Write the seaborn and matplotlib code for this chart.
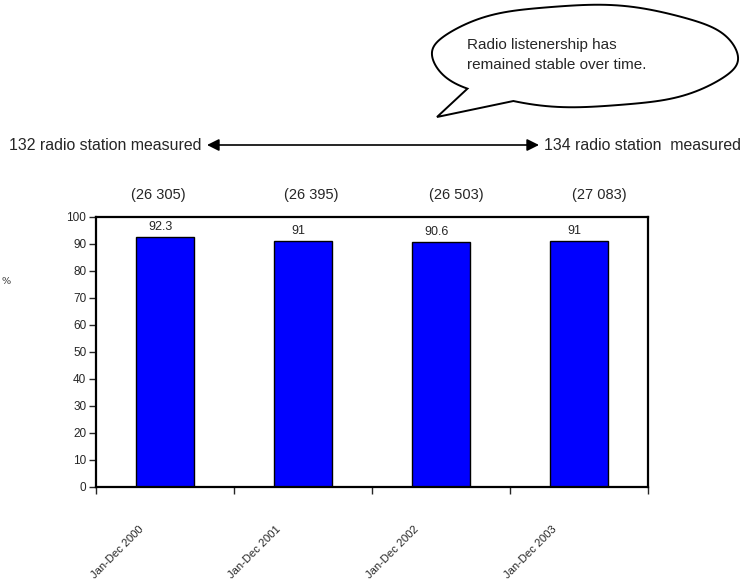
import numpy as np
import matplotlib
matplotlib.use("Agg")
import matplotlib.pyplot as plt
import seaborn as sns
import pandas as pd
from matplotlib.path import Path
from matplotlib.patches import PathPatch, FancyArrowPatch
from matplotlib.ticker import FixedLocator

# data
periods = ["Jan-Dec 2000", "Jan-Dec 2001", "Jan-Dec 2002", "Jan-Dec 2003"]
listenership = [92.3, 91, 90.6, 91]
sample_sizes = ["(26 305)", "(26 395)", "(26 503)", "(27 083)"]
value_labels = ["92.3", "91", "90.6", "91"]
y_ticks = list(range(0, 101, 10))

df = pd.DataFrame({"period": periods, "pct": listenership})

sns.set_style("white")
plt.rcParams["font.family"] = ["Liberation Sans", "DejaVu Sans"]

W, H = 742, 583
fig = plt.figure(figsize=(W / 100, H / 100), dpi=100)
ax = fig.add_axes([96 / W, 96.3 / H, 552 / W, 270 / H])

sns.barplot(data=df, x="period", y="pct", color="#0000FF", saturation=1,
            width=0.42, edgecolor="black", linewidth=1, ax=ax)

ax.set_xlim(-0.5, 3.5)
ax.set_ylim(0, 100)
ax.set_yticks(y_ticks)
ax.tick_params(axis="y", which="major", direction="out", length=5, width=1,
               labelsize=8.5, pad=2, left=True)
ax.set_xlabel("")
ax.set_ylabel("")

# category ticks: marks between categories, labels rotated under bars
ax.xaxis.set_minor_locator(FixedLocator(np.arange(-0.5, 3.6, 1)))
ax.tick_params(axis="x", which="minor", direction="out", length=5, width=1, bottom=True)
ax.tick_params(axis="x", which="major", length=0, pad=27, labelsize=8)
ax.set_xticks(range(len(periods)))
ax.set_xticklabels(periods, rotation=45, ha="right", va="top", rotation_mode="anchor")
shift = matplotlib.transforms.ScaledTranslation(-27 / 100, 0, fig.dpi_scale_trans)
for lab in ax.get_xticklabels():
    lab.set_transform(lab.get_transform() + shift)

for sp in ax.spines.values():
    sp.set_visible(True)
    sp.set_color("black")
    sp.set_linewidth(1.6)

# value labels above bars
for i, (v, t) in enumerate(zip(listenership, value_labels)):
    ax.annotate(t, (i - 0.03, v), xytext=(0, 3), textcoords="offset points",
                ha="center", va="bottom", fontsize=9)

# sample sizes above the plot
size_x = [-0.05, 1.06, 2.11, 3.15]
for x, s in zip(size_x, sample_sizes):
    ax.text(x, 108, s, ha="center", va="center", fontsize=10.5, clip_on=False)

fig.text(1 / W, 1 - 282 / H, "%", family="DejaVu Serif", fontsize=7,
         ha="left", va="center")

# station counts with double arrow
fig.text(9 / W, 1 - 145 / H, "132 radio station measured", fontsize=11.4,
         ha="left", va="center")
fig.text(741 / W, 1 - 145 / H, "134 radio station  measured", fontsize=11.4,
         ha="right", va="center")
fig.add_artist(FancyArrowPatch(
    (207 / W, 1 - 145 / H), (539 / W, 1 - 145 / H),
    transform=fig.transFigure, arrowstyle="<|-|>,head_length=0.6,head_width=0.3",
    mutation_scale=12, color="black", lw=1.2, shrinkA=0, shrinkB=0))

# speech bubble
cx, cy, a, b = 585, 56, 153, 51
t = np.radians(np.linspace(140, 360 + 117.6, 160))
bx = cx + a * np.cos(t) + 1.0 * np.sin(5 * t)
by = cy + b * np.sin(t) + 0.8 * np.cos(7 * t)
pts = list(zip(bx, by)) + [(437, 117), (bx[0], by[0])]
pts = [(px / W, 1 - py / H) for px, py in pts]
codes = [Path.MOVETO] + [Path.LINETO] * (len(pts) - 2) + [Path.CLOSEPOLY]
fig.add_artist(PathPatch(Path(pts, codes), facecolor="white", edgecolor="black",
                         lw=1.4, transform=fig.transFigure))
fig.text(467 / W, 1 - 45 / H, "Radio listenership has", fontsize=11,
         ha="left", va="center")
fig.text(467 / W, 1 - 65 / H, "remained stable over time.", fontsize=11,
         ha="left", va="center")

fig.savefig("out.png", dpi=100)
